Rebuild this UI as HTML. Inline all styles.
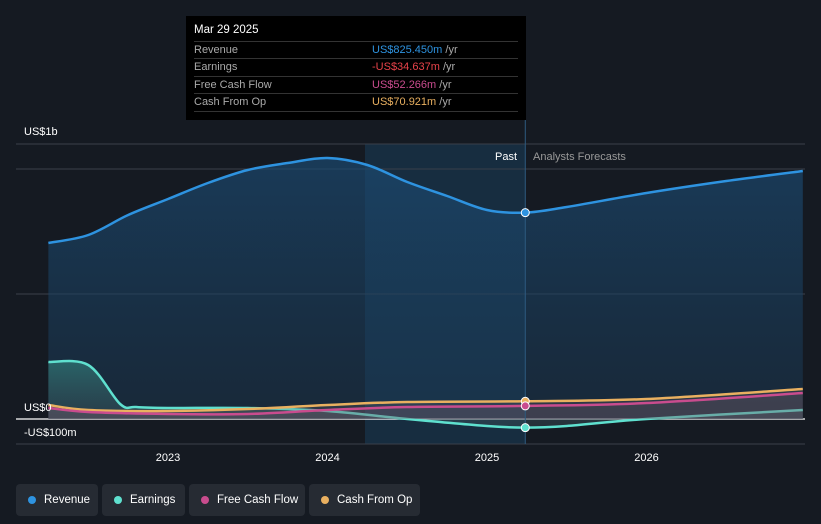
<!DOCTYPE html>
<html><head><meta charset="utf-8">
<style>
html,body{margin:0;padding:0;background:#151a22;width:821px;height:524px;overflow:hidden;font-family:"Liberation Sans",sans-serif}
svg{position:absolute;left:0;top:0}
.tip{position:absolute;left:186px;top:16px;width:340px;height:104px;background:#000;color:#fff;font-size:11px}
.tip .h{position:absolute;left:8px;top:8px;font-size:11.5px}
.row{position:absolute;left:8px;width:324px;height:17px;border-top:1px solid #333;color:#aaa;line-height:17px}
.row span{position:absolute;left:178px}
.leg{position:absolute;top:484px;height:32px;background:#262b33;border-radius:4px;color:#fff;font-size:11.5px;line-height:32px}
.leg i{position:absolute;left:12px;top:12px;width:8px;height:8px;border-radius:50%}
.leg b{font-weight:normal;position:absolute;left:28px}
</style></head><body>
<svg id="chart" width="821" height="524"></svg>
<div class="tip">
<div class="h">Mar 29 2025</div>
<div class="row" style="top:25px">Revenue<span style="color:#2e93e0">US$825.450m <em style="font-style:normal;color:#aaa">/yr</em></span></div>
<div class="row" style="top:42px">Earnings<span style="color:#e8434a">-US$34.637m <em style="font-style:normal;color:#aaa">/yr</em></span></div>
<div class="row" style="top:60px">Free Cash Flow<span style="color:#c94c8e">US$52.266m <em style="font-style:normal;color:#aaa">/yr</em></span></div>
<div class="row" style="top:77px;border-bottom:1px solid #333">Cash From Op<span style="color:#e9b060">US$70.921m <em style="font-style:normal;color:#aaa">/yr</em></span></div>
</div>
<div class="leg" style="left:16px;width:82px"><i style="background:#2e93e0"></i><b>Revenue</b></div>
<div class="leg" style="left:102px;width:83px"><i style="background:#5fe0cf"></i><b>Earnings</b></div>
<div class="leg" style="left:189px;width:116px"><i style="background:#c94c8e"></i><b>Free Cash Flow</b></div>
<div class="leg" style="left:309px;width:111px"><i style="background:#e9b060"></i><b>Cash From Op</b></div>
<script>
const revX=[2022.25,2022.5,2022.75,2023,2023.25,2023.5,2023.75,2024,2024.25,2024.5,2024.75,2025,2025.24,2025.5,2026,2026.5,2026.98];
const revY=[704,736,816,880,944,996,1024,1044,1016,948,892,836,825.45,848,904,952,992];
const earnX=[2022.25,2022.5,2022.7,2022.8,2023,2023.5,2024,2024.5,2025,2025.24,2025.5,2026,2026.98];
const earnY=[228,216,60,48,44,44,32,0,-28,-34.6,-28,0,36];
const fcfX=[2022.25,2022.5,2023,2023.5,2024,2024.5,2025.24,2026,2026.98];
const fcfY=[44,28,20,20,36,48,52.3,64,104];
const cfoX=[2022.25,2022.5,2023,2023.5,2024,2024.5,2025.24,2026,2026.98];
const cfoY=[56,36,32,40,56,68,70.9,80,120];
const yTicks=[1000,500,0,-100];
const yLabels=["US$1b","","US$0","-US$100m"];
const xTicks=[2023,2024,2025,2026];
const NOW=2025.24;
const X=t=>168+(t-2023)*159.5;
const Y=v=>419-v*0.25;
const NS="http://www.w3.org/2000/svg";
const svg=document.getElementById('chart');
function mk(tag,a,p){const e=document.createElementNS(NS,tag);for(const k in a)e.setAttribute(k,a[k]);(p||svg).appendChild(e);return e;}
const defs=mk('defs',{});
defs.innerHTML='<linearGradient id="rg" x1="0" y1="0" x2="0" y2="1"><stop offset="0" stop-color="#1b4a72" stop-opacity="0.75"/><stop offset="1" stop-color="#1b3a55" stop-opacity="0.5"/></linearGradient><linearGradient id="eg" x1="0" y1="0" x2="0" y2="1"><stop offset="0" stop-color="#2f7a78" stop-opacity="0.8"/><stop offset="1" stop-color="#3a4a55" stop-opacity="0.5"/></linearGradient>';
let r=mk('rect',{x:365,y:144,width:X(NOW)-365,height:300,fill:'#1a4466',opacity:0.45});


[1100].concat(yTicks).forEach(v=>{let l=mk('line',{x1:16,x2:805,y1:Y(v),y2:Y(v),stroke:v===0?'#fff':'#3a404a','stroke-width':v===0?1.2:1});

});
function path(xs,ys){const p=xs.map((x,i)=>[X(x),Y(ys[i])]);let d='M'+p[0][0]+','+p[0][1];
for(let i=0;i<p.length-1;i++){const p0=p[i-1]||p[i],p1=p[i],p2=p[i+1],p3=p[i+2]||p2;
d+=' C'+(p1[0]+(p2[0]-p0[0])/6)+','+(p1[1]+(p2[1]-p0[1])/6)+' '+(p2[0]-(p3[0]-p1[0])/6)+','+(p2[1]-(p3[1]-p1[1])/6)+' '+p2[0]+','+p2[1];}return d;}
function series(xs,ys,col,fill,name){
const d=path(xs,ys);
let a=mk('path',{d:d+' L'+X(xs[xs.length-1])+','+Y(0)+' L'+X(xs[0])+','+Y(0)+'Z',fill:fill,opacity:0.9});


let l=mk('path',{d:d,fill:'none',stroke:col,'stroke-width':2.5});

}
series(revX,revY,'#2e93e0','url(#rg)','revenue');
series(earnX,earnY,'#5fe0cf','url(#eg)','earnings');
series(cfoX,cfoY,'#e9b060','rgba(120,110,110,0.25)','cash-from-op');
series(fcfX,fcfY,'#c94c8e','rgba(120,90,110,0.25)','free-cash-flow');
let nl=mk('line',{x1:X(NOW),x2:X(NOW),y1:120,y2:444,stroke:'#2d5a80'});


[[revY[12],'#2e93e0'],[earnY[9],'#5fe0cf'],[cfoY[6],'#e9b060'],[fcfY[6],'#c94c8e']].forEach(([v,c])=>{let d=mk('circle',{cx:X(NOW),cy:Y(v),r:4,fill:c,stroke:'#fff','stroke-width':1});

});
yTicks.forEach((v,i)=>{if(!yLabels[i])return;let t=mk('text',{x:24,y:v===1000?Y(1100)-9:Y(v)-8,fill:'#fff','font-size':11});t.textContent=yLabels[i];

});
xTicks.forEach(v=>{let t=mk('text',{x:X(v),y:461,fill:'#fff','font-size':11,'text-anchor':'middle'});t.textContent=v;

});
let p=mk('text',{x:517,y:160,fill:'#fff','font-size':11,'text-anchor':'end'});p.textContent='Past';


let f=mk('text',{x:533,y:160,fill:'#999','font-size':11});f.textContent='Analysts Forecasts';


</script>
</body></html>
